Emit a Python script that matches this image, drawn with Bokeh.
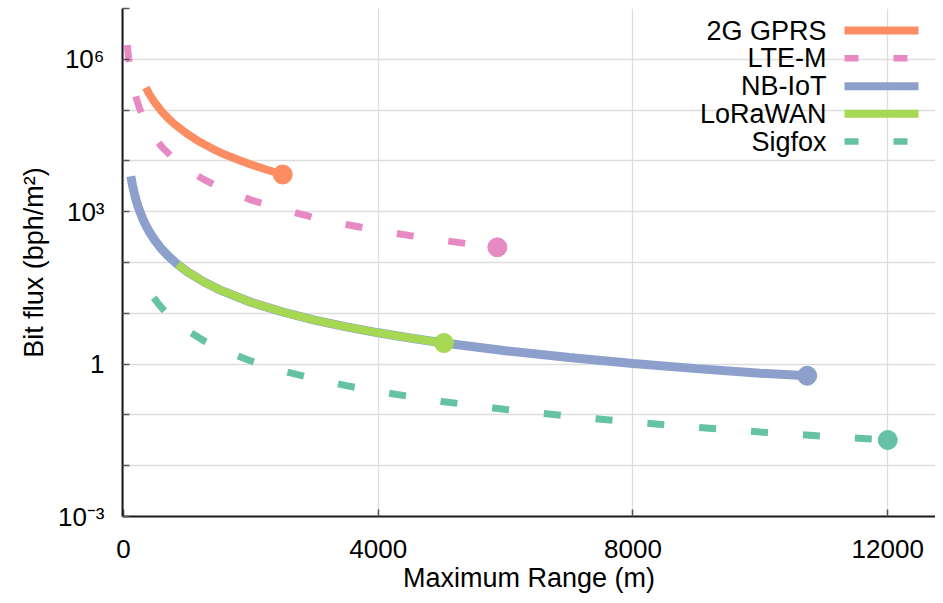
from bokeh.plotting import figure
from bokeh.models import Range1d, FixedTicker, Label, Arrow
from bokeh.embed import file_html
from bokeh.resources import INLINE

# ---------------- data ----------------
series_names = ["2G GPRS", "LTE-M", "NB-IoT", "LoRaWAN", "Sigfox"]

x_gprs = [350, 400, 450, 500, 600, 700, 800, 1000, 1200, 1400, 1600, 1800, 2000, 2250, 2500]
y_gprs = [2.77e5, 2.12e5, 1.67e5, 1.36e5, 9.4e4, 6.9e4, 5.3e4, 3.4e4, 2.35e4, 1.73e4,
          1.32e4, 1.05e4, 8.5e3, 6.7e3, 5.4e3]

x_ltem = [60, 70, 80, 90, 100, 115, 130, 150, 175, 200, 250, 300, 400, 500, 600, 800, 1000,
          1250, 1500, 1750, 2000, 2500, 3000, 3500, 4000, 4500, 5000, 5500, 5870]
y_ltem = [1.90e6, 1.40e6, 1.07e6, 8.46e5, 6.85e5, 5.18e5, 4.05e5, 3.04e5, 2.24e5, 1.71e5,
          1.10e5, 7.61e4, 4.28e4, 2.74e4, 1.90e4, 1.07e4, 6.85e3, 4.38e3, 3.04e3, 2.24e3,
          1.71e3, 1.10e3, 761, 559, 428, 338, 274, 226, 199]

x_nbiot = [115, 125, 140, 160, 180, 200, 225, 250, 300, 350, 400, 500, 600, 700, 850, 1000,
           1250, 1500, 2000, 2500, 3000, 3500, 4000, 4500, 5000, 6000, 7000, 8000, 9000,
           10000, 10735]
y_nbiot = [4.99e3, 4.22e3, 3.37e3, 2.58e3, 2.04e3, 1.65e3, 1.30e3, 1.06e3, 733, 539, 413,
           264, 183, 135, 91.3, 66, 42.2, 29.3, 16.5, 10.6, 7.33, 5.39, 4.13, 3.26, 2.64,
           1.83, 1.35, 1.03, 0.815, 0.66, 0.59]

x_lora = [850, 1000, 1250, 1500, 2000, 2500, 3000, 3500, 4000, 4500, 5030]
y_lora = [91.3, 66, 42.2, 29.3, 16.5, 10.6, 7.33, 5.39, 4.13, 3.26, 2.6]

x_sigfox = [476, 550, 650, 800, 1000, 1250, 1500, 2000, 2500, 3000, 3500, 4000, 5000, 6000,
            7000, 8000, 9000, 10000, 11000, 12000]
y_sigfox = [20.3, 15.2, 10.9, 7.19, 4.6, 2.94, 2.04, 1.15, 0.736, 0.511, 0.376, 0.288,
            0.184, 0.128, 0.094, 0.072, 0.057, 0.046, 0.038, 0.032]

x_ticks = [0, 4000, 8000, 12000]
y_ticks = [1e-3, 1e-2, 1e-1, 1.0, 1e1, 1e2, 1e3, 1e4, 1e5, 1e6, 1e7]
y_tick_labels = {1e-3: "10\u207b\u00b3", 1.0: "1", 1e3: "10\u00b3", 1e6: "10\u2076"}

# ---------------- styling ----------------
FONT = "Liberation Sans"
FS_TICK = "26px"
FS_LABEL = "27px"
FS_LEG = "27px"
C_GPRS, C_LTEM, C_NBIOT, C_LORA, C_SIGFOX = "#fc8d62", "#e78ac3", "#8da0cb", "#a6d854", "#66c2a5"
DASH = "17 35"

p = figure(width=935, height=595, output_backend="svg", toolbar_location=None,
           y_axis_type="log",
           x_range=Range1d(-16, 12750), y_range=Range1d(1e-3, 1e7),
           min_border_left=122, min_border_right=0, min_border_top=8, min_border_bottom=79)
p.outline_line_color = None
p.background_fill_color = "white"
p.border_fill_color = "white"

# axes
p.xaxis.ticker = FixedTicker(ticks=x_ticks)
p.yaxis.ticker = FixedTicker(ticks=y_ticks)
p.yaxis.major_label_overrides = {t: y_tick_labels.get(t, "") for t in y_ticks}
for ax in (p.xaxis[0], p.yaxis[0]):
    ax.major_tick_in = 7
    ax.major_tick_out = 0
    ax.minor_tick_in = 0
    ax.minor_tick_out = 0
    ax.major_tick_line_color = "#555555"
    ax.major_tick_line_width = 1.5
    ax.axis_line_color = "#1a1a1a"
    ax.axis_line_width = 2
    ax.major_label_text_font = FONT
    ax.major_label_text_font_size = FS_TICK
    ax.major_label_text_color = "black"
    ax.axis_label_text_font = FONT
    ax.axis_label_text_font_size = FS_LABEL
    ax.axis_label_text_font_style = "normal"
    ax.axis_label_text_color = "black"

p.xaxis.axis_label = "Maximum Range (m)"
p.yaxis.axis_label = "Bit flux (bph/m\u00b2)"
p.xaxis.major_label_standoff = 23
p.xaxis.axis_label_standoff = 2
p.yaxis.major_label_standoff = 18
p.yaxis.axis_label_standoff = 6

p.xgrid.grid_line_color = "#dddddd"
p.ygrid.grid_line_color = "#dddddd"
p.xgrid.grid_line_width = 1.3
p.ygrid.grid_line_width = 1.3

# curves
p.line(x_ltem, y_ltem, line_color=C_LTEM, line_width=7, line_dash=DASH)
p.line(x_sigfox, y_sigfox, line_color=C_SIGFOX, line_width=7, line_dash=DASH)
p.line(x_gprs, y_gprs, line_color=C_GPRS, line_width=8)
p.line(x_nbiot, y_nbiot, line_color=C_NBIOT, line_width=9)
p.line(x_lora, y_lora, line_color=C_LORA, line_width=8)

# end points
for xs, ys, c in [(x_gprs, y_gprs, C_GPRS), (x_ltem, y_ltem, C_LTEM), (x_nbiot, y_nbiot, C_NBIOT),
                  (x_lora, y_lora, C_LORA), (x_sigfox, y_sigfox, C_SIGFOX)]:
    p.scatter([xs[-1]], [ys[-1]], size=19, color=c, marker="circle")

# legend (label on the left, sample on the right)
leg_colors = [C_GPRS, C_LTEM, C_NBIOT, C_LORA, C_SIGFOX]
leg_dashes = ["solid", "14 35", "solid", "solid", "14 35"]
leg_rows = [486, 458.3, 430.3, 402.7, 375]   # frame-relative, from bottom
for name, c, d, yy in zip(series_names, leg_colors, leg_dashes, leg_rows):
    p.add_layout(Label(x=704, y=yy, x_units="screen", y_units="screen", text=name,
                       text_align="right", text_baseline="middle",
                       text_font=FONT, text_font_size=FS_LEG, text_color="black"))
    p.add_layout(Arrow(end=None, x_start=722, x_end=796, y_start=yy, y_end=yy,
                       start_units="screen", end_units="screen",
                       line_color=c, line_width=8 if d == "solid" else 6.5, line_dash=d))

open("out.html", "w").write(file_html(p, INLINE))
